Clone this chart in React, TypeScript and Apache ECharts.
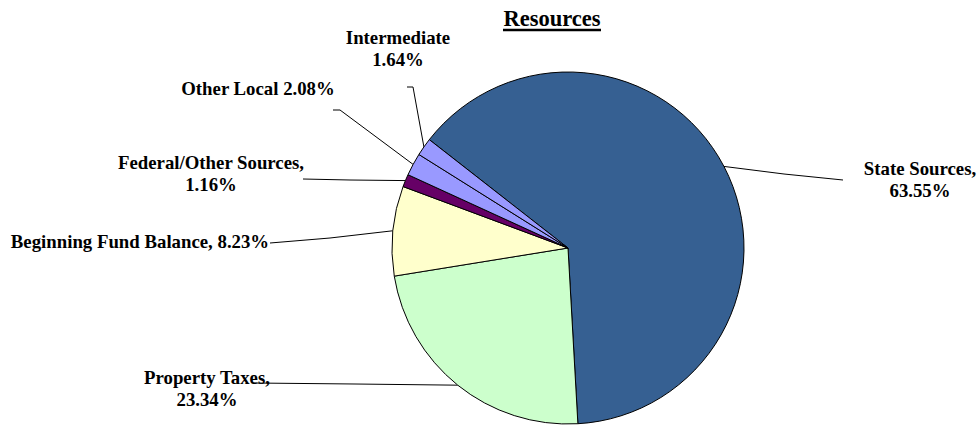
import React, { useEffect, useRef } from "react";
import * as echarts from "echarts";

const categories = [
  "State Sources",
  "Property Taxes",
  "Beginning Fund Balance",
  "Federal/Other Sources",
  "Other Local",
  "Intermediate",
];
const values = [63.55, 23.34, 8.23, 1.16, 2.08, 1.64];
const separators = [",\n", ",\n", ", ", ",\n", " ", "\n"];
const colors = ["#366092", "#CCFFCC", "#FFFFCC", "#660066", "#9999FF", "#9999FF"];

const FONT = "'Times New Roman', 'Liberation Serif', serif";

// label centre positions and leader line bend/end points (layout only)
const labelPos = [
  { x: 920, y: 179, mid: [784, 174], end: [843, 180] },
  { x: 207, y: 388, mid: [355, 384], end: [253, 383] },
  { x: 140, y: 241, mid: [330, 238], end: [270, 243] },
  { x: 211, y: 173, mid: [350, 180], end: [303, 179] },
  { x: 258, y: 88, mid: [340, 110], end: [333, 110] },
  { x: 398, y: 48, mid: [413, 87], end: [407, 87] },
];

export default function App() {
  const ref = useRef<HTMLDivElement>(null);
  useEffect(() => {
    document.body.style.margin = "0";
    const chart = echarts.init(ref.current!, null, { renderer: "svg" });
    chart.setOption({
      animation: false,
      backgroundColor: "#ffffff",
      graphic: [
        {
          type: "text",
          x: 552,
          y: 18,
          style: {
            text: "Resources",
            font: "bold 22.5px " + FONT,
            fill: "#000",
            align: "center",
            verticalAlign: "middle",
          },
        },
        {
          type: "line",
          shape: { x1: 503, y1: 30, x2: 601, y2: 30 },
          style: { stroke: "#000", lineWidth: 2.5 },
        },
      ],
      series: [
        {
          type: "pie",
          center: [568, 248],
          radius: 176,
          startAngle: 142,
          clockwise: true,
          avoidLabelOverlap: false,
          itemStyle: { borderColor: "#000", borderWidth: 1 },
          label: {
            show: true,
            position: "outside",
            fontFamily: FONT,
            fontWeight: "bold",
            fontSize: 18.8,
            lineHeight: 22,
            color: "#000",
            align: "center",
            formatter: (p: any) =>
              p.name + separators[p.dataIndex] + p.value.toFixed(2) + "%",
          },
          labelLine: {
            show: true,
            lineStyle: { color: "#000", width: 1 },
          },
          labelLayout: (params: any) => {
            const lp = labelPos[params.dataIndex];
            const anchor = params.labelLinePoints
              ? params.labelLinePoints[0]
              : lp.mid;
            return {
              x: lp.x,
              y: lp.y,
              align: "center",
              verticalAlign: "middle",
              labelLinePoints: [anchor, lp.mid, lp.end],
            };
          },
          data: categories.map((name, i) => ({
            name,
            value: values[i],
            itemStyle: { color: colors[i] },
          })),
        },
      ],
    });
    return () => chart.dispose();
  }, []);
  return <div ref={ref} style={{ width: 978, height: 426 }} />;
}
